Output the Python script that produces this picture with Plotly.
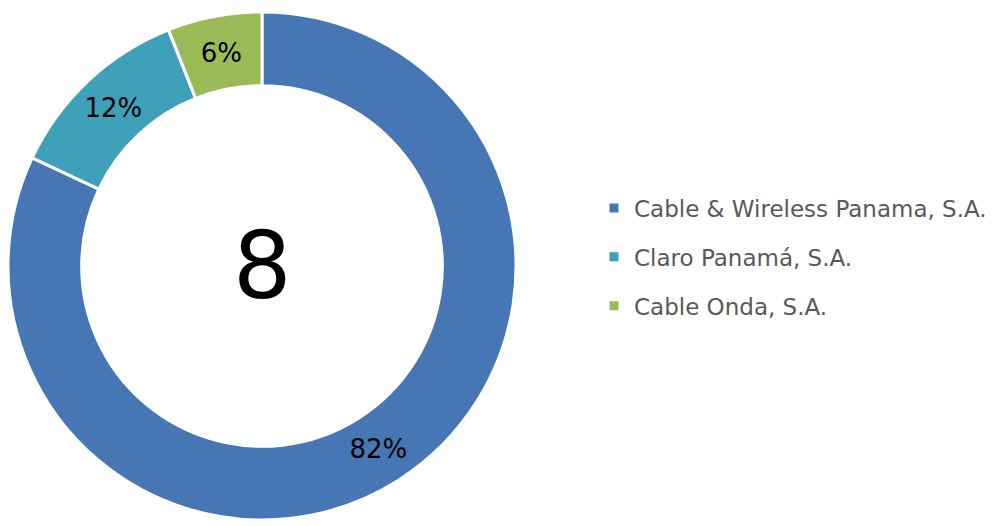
import plotly.graph_objects as go

labels = ["Cable & Wireless Panama, S.A.", "Claro Panamá, S.A.", "Cable Onda, S.A."]
shares = [82, 12, 6]
colors = ["#4677B4", "#3FA0B9", "#9BBB59"]
center_text = "8"

FONT = "Century Gothic, DejaVu Sans, sans-serif"

W, H = 1004, 526
# the page body adds an 8px margin, so the figure coordinates are shifted back by 8
cx, cy, r = 254, 258, 254

fig = go.Figure()
fig.add_pie(
    labels=labels,
    values=shares,
    sort=False,
    direction="clockwise",
    rotation=0,
    hole=0.71,
    marker={"colors": colors, "line": {"color": "white", "width": 3}},
    texttemplate="%{percent:.0%}",
    textposition="inside",
    insidetextorientation="horizontal",
    textfont={"family": FONT, "size": 26, "color": "black"},
    domain={"x": [(cx - r) / W, (cx + r) / W], "y": [1 - (cy + r) / H, 1 - (cy - r) / H]},
    showlegend=False,
    hoverinfo="label+percent",
)

# legend entries, one group each so the gap between them can be widened
for name, color in zip(labels, colors):
    fig.add_scatter(
        x=[None],
        y=[None],
        mode="markers",
        name=name,
        legendgroup=name,
        marker={"symbol": "square", "size": 9, "color": color},
    )

fig.add_annotation(
    text=center_text,
    x=cx / W,
    y=1 - cy / H,
    xref="paper",
    yref="paper",
    xanchor="center",
    yanchor="middle",
    showarrow=False,
    font={"family": FONT, "size": 92, "color": "black"},
)

fig.update_layout(
    width=W,
    height=H,
    margin={"l": 0, "r": 0, "t": 0, "b": 0},
    paper_bgcolor="white",
    plot_bgcolor="white",
    xaxis={"visible": False},
    yaxis={"visible": False},
    legend={
        "x": 586 / W,
        "y": 1 - 249 / H,
        "xanchor": "left",
        "yanchor": "middle",
        "font": {"family": FONT, "size": 23, "color": "#595959"},
        "tracegroupgap": 16,
        "bgcolor": "rgba(0,0,0,0)",
    },
)

fig.write_html("out.html")
